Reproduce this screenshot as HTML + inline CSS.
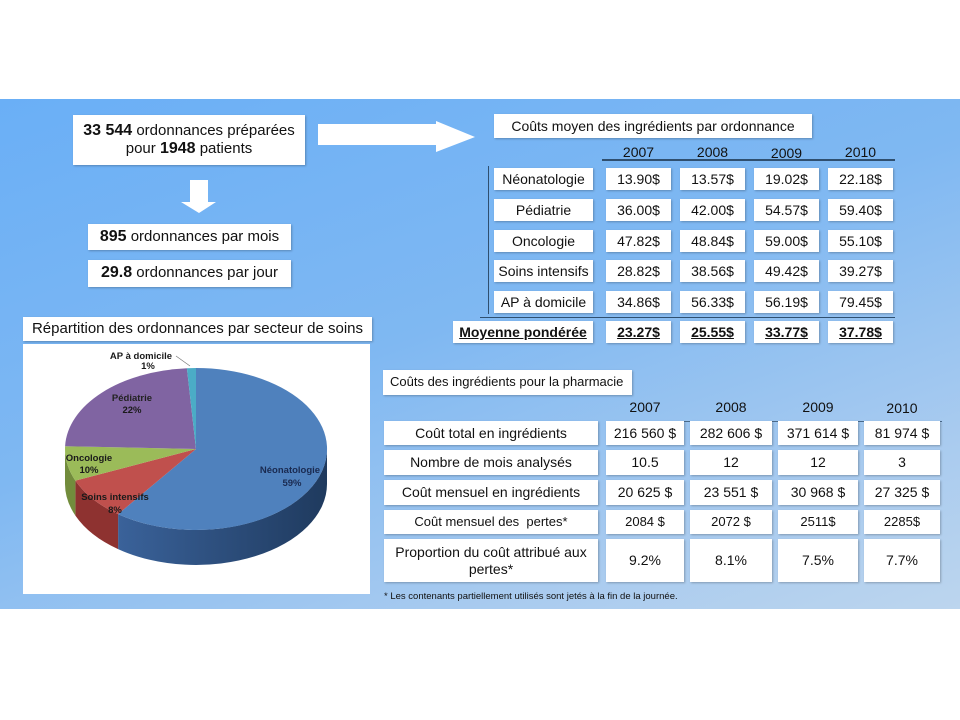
<!DOCTYPE html>
<html><head><meta charset="utf-8"><style>
*{margin:0;padding:0;box-sizing:border-box}
body{width:960px;height:720px;background:#fff;position:relative;overflow:hidden;font-family:"Liberation Sans",sans-serif;color:#111}
#panel{position:absolute;left:0;top:99px;width:960px;height:510px;background:linear-gradient(160deg,#6aaff6 0%,#7fb8f2 45%,#a9cbef 80%,#bcd5ee 100%)}
.b{position:absolute;background:#fff;display:flex;align-items:center;justify-content:center;text-align:center;font-size:14px;line-height:1.15;box-shadow:1px 1px 2px rgba(0,0,0,.25);white-space:nowrap}
.t{position:absolute;font-size:14px;text-align:center}
.ln{position:absolute;background:#2f4f6f}
</style></head><body>
<div id="panel"></div>

<div class="b" style="left:73px;top:115px;width:232px;height:50px;font-size:15px"><div><b style="font-size:16px">33 544</b> ordonnances préparées<br>pour <b style="font-size:16px">1948</b> patients</div></div>
<div class="b" style="left:88px;top:224px;width:203px;height:26px;font-size:15px"><span><b style="font-size:16px">895</b> ordonnances par mois</span></div>
<div class="b" style="left:88px;top:260px;width:203px;height:27px;font-size:15px"><span><b style="font-size:16px">29.8</b> ordonnances par jour</span></div>

<svg style="position:absolute;left:0;top:0" width="960" height="720">
<polygon points="318,124 436,124 436,121 475,137 436,152 436,145 318,145" fill="#fff"/>
<polygon points="190,180 208,180 208,202 216,202 199,213 181,202 190,202" fill="#fff"/>
</svg>

<div class="b" style="left:23px;top:317px;width:349px;height:24px;font-size:15px">Répartition des ordonnances par secteur de soins</div>
<div style="position:absolute;left:23px;top:344px;width:347px;height:250px;background:#fff"></div>
<svg style="position:absolute;left:0;top:0" width="960" height="720">
<defs>
<linearGradient id="gn" x1="0" x2="1"><stop offset="0" stop-color="#3a629a"/><stop offset="1" stop-color="#1f3a5e"/></linearGradient>
</defs>
<path d="M327,449 A131,81 0 0 1 118.1,514.1 L118.1,549.1 A131,81 0 0 0 327,484 Z" fill="url(#gn)"/>
<path d="M118.1,514.1 A131,81 0 0 1 75.4,480.6 L75.4,515.6 A131,81 0 0 0 118.1,549.1 Z" fill="#8e3230"/>
<path d="M75.4,480.6 A131,81 0 0 1 65,449 L65,484 A131,81 0 0 0 75.4,515.6 Z" fill="#728c3c"/>
<path d="M196,449 L196,368 A131,81 0 1 1 118.1,514.1 Z" fill="#4f81bd"/>
<path d="M196,449 L118.1,514.1 A131,81 0 0 1 75.4,480.6 Z" fill="#c0504d"/>
<path d="M196,449 L75.4,480.6 A131,81 0 0 1 65.1,446.2 Z" fill="#9bbb59"/>
<path d="M196,449 L65.1,446.2 A131,81 0 0 1 186.9,368.2 Z" fill="#8064a2"/>
<path d="M196,449 L186.9,368.2 A131,81 0 0 1 196,368 Z" fill="#4bacc6"/>
<polyline points="176,356 183,361 190,366" fill="none" stroke="#777" stroke-width="0.7"/>
<g font-family="Liberation Sans,sans-serif" font-size="9.5" font-weight="600" text-anchor="middle" fill="#1a1a1a">
<text x="141" y="359">AP à domicile</text><text x="148" y="369">1%</text>
<text x="132" y="401" fill="#222">Pédiatrie</text><text x="132" y="413">22%</text>
<text x="89" y="461">Oncologie</text><text x="89" y="473">10%</text>
<text x="115" y="500">Soins intensifs</text><text x="115" y="513">8%</text>
<text x="290" y="473" fill="#1a2a50">Néonatologie</text><text x="292" y="486" fill="#1a2a50">59%</text>
</g>
</svg>

<!-- table 1 -->
<div class="b" style="left:494px;top:114px;width:318px;height:24px;font-size:14px">Coûts moyen des ingrédients par ordonnance</div>
<div class="t" style="left:606px;top:144px;width:65px">2007</div>
<div class="t" style="left:680px;top:144px;width:65px">2008</div>
<div class="t" style="left:754px;top:145px;width:65px">2009</div>
<div class="t" style="left:828px;top:144px;width:65px">2010</div>
<div class="ln" style="left:602px;top:159px;width:293px;height:2px"></div>
<div class="ln" style="left:488px;top:166px;width:1px;height:148px"></div>
<div class="ln" style="left:480px;top:317px;width:415px;height:1px"></div>

<div class="b" style="left:494px;top:168px;width:99px;height:22px">Néonatologie</div>
<div class="b" style="left:494px;top:199px;width:99px;height:22px">Pédiatrie</div>
<div class="b" style="left:494px;top:230px;width:99px;height:22px">Oncologie</div>
<div class="b" style="left:494px;top:260px;width:99px;height:22px">Soins intensifs</div>
<div class="b" style="left:494px;top:291px;width:99px;height:22px">AP à domicile</div>
<div class="b" style="left:453px;top:321px;width:140px;height:22px;font-weight:bold;text-decoration:underline">Moyenne pondérée</div>

<div class="b" style="left:606px;top:168px;width:65px;height:22px">13.90$</div>
<div class="b" style="left:680px;top:168px;width:65px;height:22px">13.57$</div>
<div class="b" style="left:754px;top:168px;width:65px;height:22px">19.02$</div>
<div class="b" style="left:828px;top:168px;width:65px;height:22px">22.18$</div>
<div class="b" style="left:606px;top:199px;width:65px;height:22px">36.00$</div>
<div class="b" style="left:680px;top:199px;width:65px;height:22px">42.00$</div>
<div class="b" style="left:754px;top:199px;width:65px;height:22px">54.57$</div>
<div class="b" style="left:828px;top:199px;width:65px;height:22px">59.40$</div>
<div class="b" style="left:606px;top:230px;width:65px;height:22px">47.82$</div>
<div class="b" style="left:680px;top:230px;width:65px;height:22px">48.84$</div>
<div class="b" style="left:754px;top:230px;width:65px;height:22px">59.00$</div>
<div class="b" style="left:828px;top:230px;width:65px;height:22px">55.10$</div>
<div class="b" style="left:606px;top:260px;width:65px;height:22px">28.82$</div>
<div class="b" style="left:680px;top:260px;width:65px;height:22px">38.56$</div>
<div class="b" style="left:754px;top:260px;width:65px;height:22px">49.42$</div>
<div class="b" style="left:828px;top:260px;width:65px;height:22px">39.27$</div>
<div class="b" style="left:606px;top:291px;width:65px;height:22px">34.86$</div>
<div class="b" style="left:680px;top:291px;width:65px;height:22px">56.33$</div>
<div class="b" style="left:754px;top:291px;width:65px;height:22px">56.19$</div>
<div class="b" style="left:828px;top:291px;width:65px;height:22px">79.45$</div>
<div class="b" style="left:606px;top:321px;width:65px;height:22px;font-weight:bold;text-decoration:underline">23.27$</div>
<div class="b" style="left:680px;top:321px;width:65px;height:22px;font-weight:bold;text-decoration:underline">25.55$</div>
<div class="b" style="left:754px;top:321px;width:65px;height:22px;font-weight:bold;text-decoration:underline">33.77$</div>
<div class="b" style="left:828px;top:321px;width:65px;height:22px;font-weight:bold;text-decoration:underline">37.78$</div>

<!-- table 2 -->
<div class="b" style="left:383px;top:370px;width:249px;height:25px;justify-content:flex-start;padding-left:7px;font-size:13px">Coûts des ingrédients pour la pharmacie</div>
<div class="t" style="left:606px;top:399px;width:78px">2007</div>
<div class="t" style="left:690px;top:399px;width:82px">2008</div>
<div class="t" style="left:778px;top:399px;width:80px">2009</div>
<div class="t" style="left:864px;top:400px;width:76px">2010</div>
<div class="ln" style="left:606px;top:421px;width:336px;height:1px;background:#4a6a8a"></div>

<div class="b" style="left:384px;top:421px;width:214px;height:24px">Coût total en ingrédients</div>
<div class="b" style="left:384px;top:450px;width:214px;height:25px">Nombre de mois analysés</div>
<div class="b" style="left:384px;top:480px;width:214px;height:25px">Coût mensuel en ingrédients</div>
<div class="b" style="left:384px;top:510px;width:214px;height:24px;font-size:13px">Coût mensuel des &nbsp;pertes*</div>
<div class="b" style="left:384px;top:539px;width:214px;height:43px">Proportion du coût attribué aux<br>pertes*</div>

<div class="b" style="left:606px;top:421px;width:78px;height:24px">216 560 $</div>
<div class="b" style="left:690px;top:421px;width:82px;height:24px">282 606 $</div>
<div class="b" style="left:778px;top:421px;width:80px;height:24px">371 614 $</div>
<div class="b" style="left:864px;top:421px;width:76px;height:24px">81 974 $</div>
<div class="b" style="left:606px;top:450px;width:78px;height:25px">10.5</div>
<div class="b" style="left:690px;top:450px;width:82px;height:25px">12</div>
<div class="b" style="left:778px;top:450px;width:80px;height:25px">12</div>
<div class="b" style="left:864px;top:450px;width:76px;height:25px">3</div>
<div class="b" style="left:606px;top:480px;width:78px;height:25px">20 625 $</div>
<div class="b" style="left:690px;top:480px;width:82px;height:25px">23 551 $</div>
<div class="b" style="left:778px;top:480px;width:80px;height:25px">30 968 $</div>
<div class="b" style="left:864px;top:480px;width:76px;height:25px">27 325 $</div>
<div class="b" style="left:606px;top:510px;width:78px;height:24px;font-size:13px">2084 $</div>
<div class="b" style="left:690px;top:510px;width:82px;height:24px;font-size:13px">2072 $</div>
<div class="b" style="left:778px;top:510px;width:80px;height:24px;font-size:13px">2511$</div>
<div class="b" style="left:864px;top:510px;width:76px;height:24px;font-size:13px">2285$</div>
<div class="b" style="left:606px;top:539px;width:78px;height:43px">9.2%</div>
<div class="b" style="left:690px;top:539px;width:82px;height:43px">8.1%</div>
<div class="b" style="left:778px;top:539px;width:80px;height:43px">7.5%</div>
<div class="b" style="left:864px;top:539px;width:76px;height:43px">7.7%</div>

<div style="position:absolute;left:384px;top:591px;font-size:9.5px;color:#111">* Les contenants partiellement utilisés sont jetés à la fin de la journée.</div>
</body></html>
